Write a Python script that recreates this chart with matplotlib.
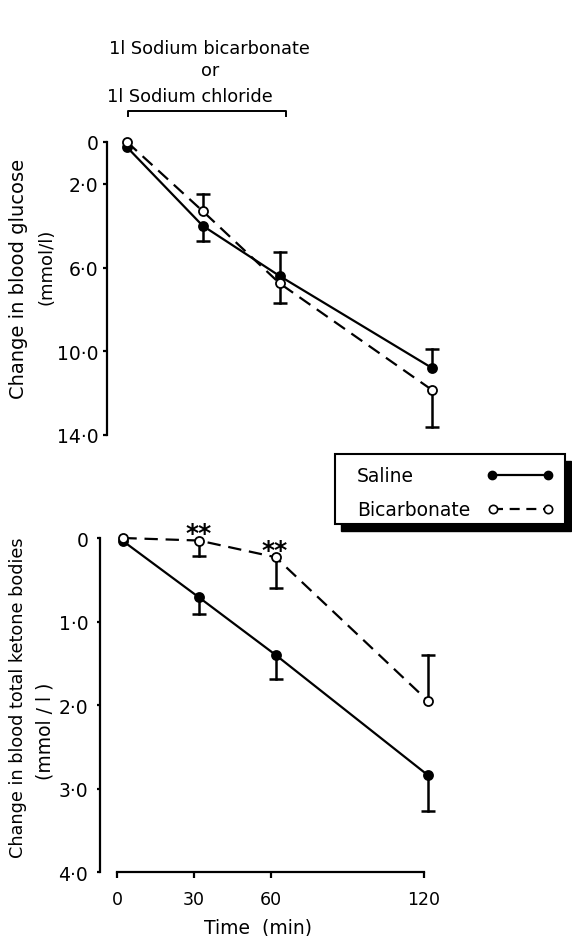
import matplotlib.pyplot as plt
import matplotlib.transforms as mtransforms
from matplotlib.patches import Rectangle
from matplotlib.lines import Line2D

plt.rcParams['font.family'] = ['DejaVu Sans']

# times at which the points sit on the chart (min)
time_pts = [2.5, 32, 62, 121.5]
time_ticks = [0, 30, 60, 120]
time_labels = ['0', '30', '60', '120']

# change in blood glucose (mmol/l), error bar end values
glucose_saline = [0.25, 4.0, 6.4, 10.8]
glucose_saline_bar = [None, 4.75, 5.25, 9.9]
glucose_bicarb = [0.0, 3.3, 6.75, 11.85]
glucose_bicarb_bar = [None, 2.5, 7.7, 13.6]
glucose_ticks = [0, 2, 6, 10, 14]
glucose_labels = ['0', '2·0', '6·0', '10·0', '14·0']

# change in blood total ketone bodies (mmol/l)
ketone_saline = [0.04, 0.71, 1.40, 2.84]
ketone_saline_bar = [None, 0.91, 1.69, 3.27]
ketone_bicarb = [0.0, 0.03, 0.23, 1.95]
ketone_bicarb_bar = [None, 0.21, 0.60, 1.40]
ketone_ticks = [0, 1, 2, 3, 4]
ketone_labels = ['0', '1·0', '2·0', '3·0', '4·0']

signif_idx = [1, 2]      # ** over bicarbonate points
infusion = [3, 64.5]     # bracket over top panel


def draw_series(ax, y, bars, filled, dashed):
    face = 'black' if filled else 'white'
    ls = (0, (6, 3.5)) if dashed else '-'
    ax.plot(time_pts, y, color='black', lw=1.6, linestyle=ls, marker='o', ms=6.5,
            mfc=face, mec='black', mew=1.3, zorder=4, clip_on=False)
    for t, v, b in zip(time_pts, y, bars):
        if b is None:
            continue
        ax.plot([t, t], [v, b], color='black', lw=1.8, zorder=2, clip_on=False)
        ax.plot(t, b, marker='_', ms=10, mew=1.8, color='black', zorder=2, clip_on=False)


def style_axis(ax, pad, length):
    for s in ['top', 'right']:
        ax.spines[s].set_visible(False)
    ax.spines['left'].set_linewidth(1.6)
    ax.tick_params(axis='y', direction='out', length=length, width=1.6, pad=pad, labelsize=13.5)


fig = plt.figure(figsize=(5.72, 9.37), dpi=100)

# --- top panel: glucose ---
ax1 = fig.add_axes([0.1871, 0.5280, 0.6063, 0.3261])
draw_series(ax1, glucose_saline, glucose_saline_bar, True, False)
draw_series(ax1, glucose_bicarb, glucose_bicarb_bar, False, True)
ax1.set_xlim(-5.3, 130)
ax1.set_ylim(14.3, -0.3)
style_axis(ax1, 3, 3)
ax1.spines['bottom'].set_visible(False)
ax1.spines['left'].set_bounds(0, 14)
ax1.set_xticks([])
ax1.set_yticks(glucose_ticks)
ax1.set_yticklabels(glucose_labels)

# infusion bracket and header
trans = mtransforms.blended_transform_factory(ax1.transData, fig.transFigure)
ax1.plot([infusion[0], infusion[0], infusion[1], infusion[1]],
         [0.8751, 0.8805, 0.8805, 0.8751], color='black', lw=1.4,
         transform=trans, clip_on=False)
fig.text(109 / 572, 0.9424, '1l Sodium bicarbonate', fontsize=12.8, va='baseline')
fig.text(210 / 572, 0.9189, 'or', fontsize=12.8, va='baseline', ha='center')
fig.text(107 / 572, 0.8915, '1l Sodium chloride', fontsize=12.8, va='baseline')

fig.text(18.5 / 572, 1 - 279 / 937, 'Change in blood glucose', rotation=90,
         fontsize=14, ha='center', va='center')
fig.text(46.7 / 572, 1 - 267 / 937, '(mmol/l)', rotation=90,
         fontsize=13, ha='center', va='center')

# --- bottom panel: ketone bodies ---
ax2 = fig.add_axes([0.1748, 0.0683, 0.6112, 0.3698])
draw_series(ax2, ketone_saline, ketone_saline_bar, True, False)
draw_series(ax2, ketone_bicarb, ketone_bicarb_bar, False, True)
ax2.set_xlim(-6.65, 130)
ax2.set_ylim(4.0, -0.15)
style_axis(ax2, 6, 2.5)
ax2.spines['bottom'].set_linewidth(1.6)
ax2.spines['left'].set_bounds(0, 4)
ax2.spines['bottom'].set_bounds(0, 120)
ax2.set_yticks(ketone_ticks)
ax2.set_yticklabels(ketone_labels)
ax2.set_xticks(time_ticks)
ax2.set_xticklabels(time_labels)
ax2.tick_params(axis='x', direction='out', length=4.3, width=1.6, pad=8.5, labelsize=12.5)

for i in signif_idx:
    ax2.annotate('**', (time_pts[i], ketone_bicarb[i]), xytext=(-0.5, 0.5),
                 textcoords='offset points', ha='center', va='baseline',
                 fontsize=18, fontweight='bold')

fig.text(18.5 / 572, 1 - 697.5 / 937, 'Change in blood total ketone bodies', rotation=90,
         fontsize=12.7, ha='center', va='center')
fig.text(45 / 572, 1 - 731 / 937, '(mmol / l )', rotation=90,
         fontsize=13.5, ha='center', va='center')
fig.text(258 / 572, 1 - 928 / 937, 'Time  (min)', fontsize=13.5, ha='center', va='center')

# --- legend box with hard shadow ---
bx, by, bw, bh = 335 / 572, 1 - 525 / 937, 230 / 572, 70 / 937
fig.add_artist(Rectangle((bx + 6 / 572, by - 7 / 937), bw, bh, fc='black', ec='black',
                         transform=fig.transFigure, zorder=5))
fig.add_artist(Rectangle((bx, by), bw, bh, fc='white', ec='black', lw=1.5,
                         transform=fig.transFigure, zorder=6))
fig.text(357 / 572, 1 - 476 / 937, 'Saline', fontsize=13.5, va='center', zorder=7)
fig.text(357 / 572, 1 - 510 / 937, 'Bicarbonate', fontsize=13.5, va='center', zorder=7)
fig.add_artist(Line2D([492 / 572, 548 / 572], [1 - 476 / 937] * 2, color='black', lw=1.6,
                      marker='o', ms=6, mfc='black', mec='black',
                      transform=fig.transFigure, zorder=7))
fig.add_artist(Line2D([493 / 572, 548 / 572], [1 - 510 / 937] * 2, color='black', lw=1.6,
                      linestyle=(0, (4.5, 3)), marker='o', ms=6, mfc='white', mec='black',
                      mew=1.2, transform=fig.transFigure, zorder=7))

fig.savefig('out.png', dpi=100)
